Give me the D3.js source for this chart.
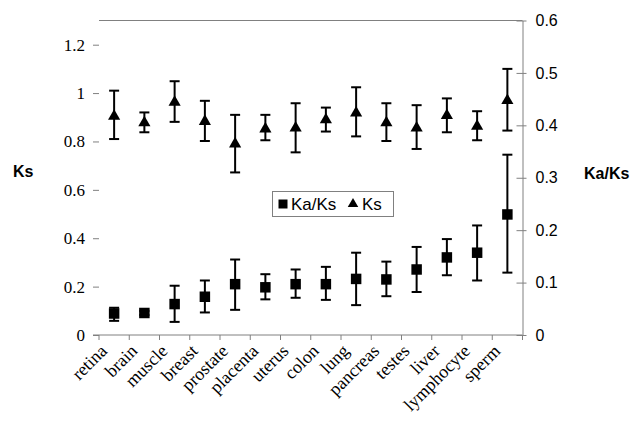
<!DOCTYPE html>
<html>
<head>
<meta charset="utf-8">
<script src="https://cdn.jsdelivr.net/npm/d3@7"></script>
<style>
  html, body { margin: 0; padding: 0; background: #fff; }
  svg { display: block; }
</style>
</head>
<body>
<svg id="chart" width="636" height="427"></svg>
<script>
const categories = ["retina", "brain", "muscle", "breast", "prostate", "placenta", "uterus", "colon", "lung", "pancreas", "testes", "liver", "lymphocyte", "sperm"];

// Ks (left axis) – triangles
const ksValue = [0.904, 0.877, 0.962, 0.883, 0.790, 0.852, 0.856, 0.890, 0.918, 0.877, 0.856, 0.907, 0.863, 0.969];
const ksLow   = [0.810, 0.838, 0.881, 0.802, 0.672, 0.805, 0.755, 0.841, 0.821, 0.802, 0.769, 0.838, 0.805, 0.845];
const ksHigh  = [1.010, 0.920, 1.049, 0.968, 0.910, 0.910, 0.958, 0.940, 1.024, 0.958, 0.950, 0.978, 0.925, 1.100];

// Ka/Ks (right axis) – squares
const kaksValue = [0.041, 0.042, 0.059, 0.073, 0.097, 0.091, 0.097, 0.097, 0.107, 0.106, 0.125, 0.148, 0.157, 0.230];
const kaksLow   = [0.027, 0.038, 0.025, 0.043, 0.048, 0.068, 0.071, 0.067, 0.057, 0.074, 0.082, 0.114, 0.104, 0.119];
const kaksHigh  = [0.052, 0.046, 0.094, 0.104, 0.144, 0.116, 0.125, 0.130, 0.157, 0.140, 0.168, 0.183, 0.209, 0.344];

const leftTicks = [0, 0.2, 0.4, 0.6, 0.8, 1.0, 1.2];
const rightTicks = [0, 0.1, 0.2, 0.3, 0.4, 0.5, 0.6];
const leftTitle = "Ks";
const rightTitle = "Ka/Ks";
const legendLabels = ["Ka/Ks", "Ks"];

const svg = d3.select("#chart");
const plotL = 99, plotR = 522.5, plotT = 20.5, plotB = 335;
const axisGrey = "#808080";

const x = d3.scaleBand().domain(categories).range([plotL, plotR]).padding(0);
const yL = d3.scaleLinear().domain([0, 1.3]).range([plotB, plotT]);
const yR = d3.scaleLinear().domain([0, 0.6]).range([plotB, plotT]);

// top border
svg.append("line").attr("x1", plotL).attr("x2", plotR).attr("y1", plotT).attr("y2", plotT)
  .attr("stroke", axisGrey).attr("stroke-width", 1);

// x axis line
svg.append("line").attr("x1", 93).attr("x2", plotR).attr("y1", plotB).attr("y2", plotB)
  .attr("stroke", axisGrey).attr("stroke-width", 1);
// x ticks at category boundaries
const boundaries = categories.map(c => x(c)).concat([plotR]);
svg.append("g").selectAll("line").data(boundaries).join("line")
  .attr("x1", d => d).attr("x2", d => d).attr("y1", plotB).attr("y2", plotB + 5)
  .attr("stroke", axisGrey).attr("stroke-width", 1);

// x labels rotated
svg.append("g").selectAll("text").data(categories).join("text")
  .attr("transform", d => `translate(${x(d) + x.bandwidth() / 2 - 6},${plotB + 17}) rotate(-45)`)
  .attr("text-anchor", "end")
  .attr("font-family", "'Liberation Serif', 'Times New Roman', serif")
  .attr("font-size", 18)
  .attr("fill", "#000")
  .text(d => d);

// left axis
const leftAxis = d3.axisLeft(yL).tickValues(leftTicks).tickSize(6).tickPadding(8)
  .tickFormat(d => String(+d.toFixed(1)));
const gL = svg.append("g").attr("transform", `translate(${plotL},0)`).call(leftAxis);
gL.select(".domain").remove();
gL.selectAll(".tick line").attr("stroke", axisGrey);
gL.selectAll(".tick text").attr("font-family", "'Liberation Serif', 'Times New Roman', serif")
  .attr("font-size", 17).attr("fill", "#000");

// right axis
const rightAxis = d3.axisRight(yR).tickValues(rightTicks).tickSize(4).tickSizeOuter(0).tickPadding(9)
  .tickFormat(d => String(+d.toFixed(1)));
const gR = svg.append("g").attr("transform", `translate(${plotR},0)`).call(rightAxis);
gR.select(".domain").attr("stroke", axisGrey);
gR.selectAll(".tick line").attr("x1", -6).attr("stroke", axisGrey);
gR.selectAll(".tick text").attr("font-family", "Arial, 'Liberation Sans', sans-serif")
  .attr("font-size", 16).attr("fill", "#000");

// axis titles
svg.append("text").attr("x", 13).attr("y", 177).text(leftTitle)
  .attr("font-family", "Arial, 'Liberation Sans', sans-serif").attr("font-size", 16)
  .attr("font-weight", "bold").attr("fill", "#000");
svg.append("text").attr("x", 584).attr("y", 179).text(rightTitle)
  .attr("font-family", "Arial, 'Liberation Sans', sans-serif").attr("font-size", 16)
  .attr("font-weight", "bold").attr("fill", "#000");

const cx = i => x(categories[i]) + x.bandwidth() / 2;
const capW = 10;

function errorBars(values, low, high, scale) {
  const g = svg.append("g").attr("stroke", "#000").attr("stroke-width", 2);
  values.forEach((v, i) => {
    const xc = cx(i);
    g.append("line").attr("x1", xc).attr("x2", xc).attr("y1", scale(low[i])).attr("y2", scale(high[i]));
    g.append("line").attr("x1", xc - capW / 2).attr("x2", xc + capW / 2).attr("y1", scale(low[i])).attr("y2", scale(low[i]));
    g.append("line").attr("x1", xc - capW / 2).attr("x2", xc + capW / 2).attr("y1", scale(high[i])).attr("y2", scale(high[i]));
  });
}

errorBars(ksValue, ksLow, ksHigh, yL);
errorBars(kaksValue, kaksLow, kaksHigh, yR);

const triSym = d3.symbol().type(d3.symbolTriangle).size(64);
const sqSym = d3.symbol().type(d3.symbolSquare).size(110);

svg.append("g").selectAll("path").data(ksValue).join("path")
  .attr("d", triSym)
  .attr("transform", (d, i) => `translate(${cx(i)},${yL(d)})`)
  .attr("fill", "#000");

svg.append("g").selectAll("path").data(kaksValue).join("path")
  .attr("d", sqSym)
  .attr("transform", (d, i) => `translate(${cx(i)},${yR(d)})`)
  .attr("fill", "#000");

// legend
const lg = svg.append("g");
lg.append("rect").attr("x", 272.5).attr("y", 191.5).attr("width", 121).attr("height", 25)
  .attr("fill", "#fff").attr("stroke", axisGrey).attr("stroke-width", 1);
lg.append("path").attr("d", d3.symbol().type(d3.symbolSquare).size(81))
  .attr("transform", "translate(283,204)").attr("fill", "#000");
lg.append("text").attr("x", 291).attr("y", 210).text(legendLabels[0])
  .attr("font-family", "Arial, 'Liberation Sans', sans-serif").attr("font-size", 17).attr("fill", "#000");
lg.append("path").attr("d", d3.symbol().type(d3.symbolTriangle).size(48))
  .attr("transform", "translate(353,204)").attr("fill", "#000");
lg.append("text").attr("x", 362).attr("y", 210).text(legendLabels[1])
  .attr("font-family", "Arial, 'Liberation Sans', sans-serif").attr("font-size", 17).attr("fill", "#000");
</script>
</body>
</html>
